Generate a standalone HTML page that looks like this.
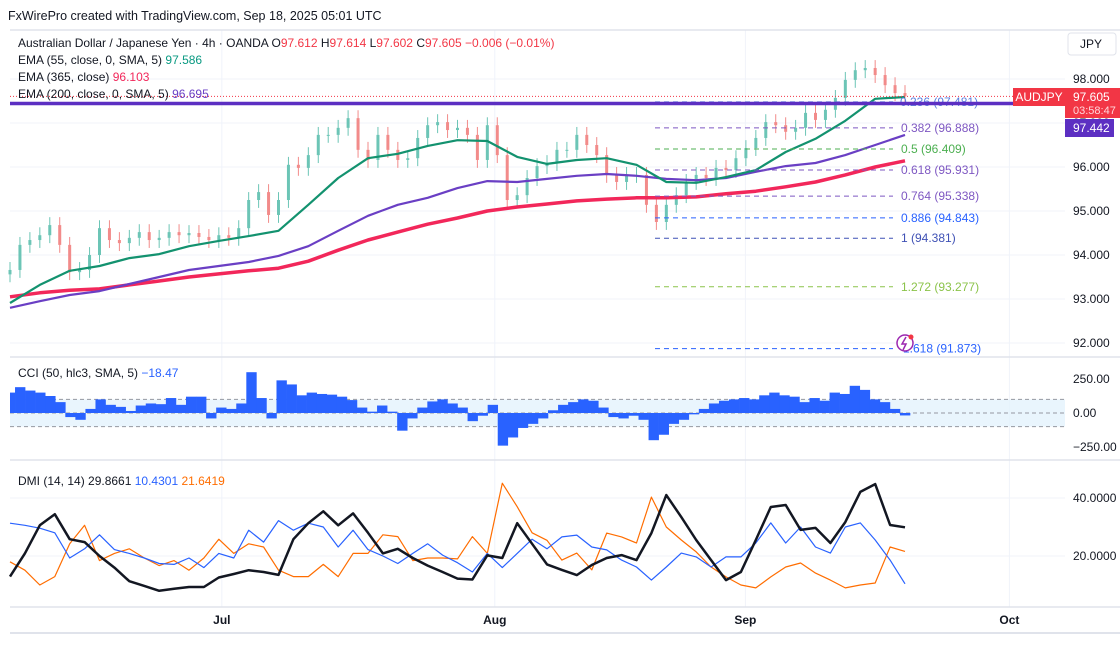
<!DOCTYPE html>
<html><head><meta charset="utf-8"><style>
body{margin:0;background:#fff;width:1120px;height:640px;overflow:hidden;font-family:"Liberation Sans",sans-serif}
svg text{font-family:"Liberation Sans",sans-serif}
</style></head><body>
<svg id="c" width="1120" height="640" xmlns="http://www.w3.org/2000/svg">
<text x="8" y="20" font-size="12.5" fill="#131722">FxWirePro created with TradingView.com, Sep 18, 2025 05:01 UTC</text>
<g id="grid"></g>
<g id="panes"></g>
</svg>
<script>
const closes=[93.66,94.23,94.34,94.45,94.68,94.23,93.61,93.66,94.00,94.61,94.34,94.27,94.39,94.52,94.34,94.39,94.52,94.45,94.50,94.41,94.34,94.45,94.39,94.61,95.25,95.43,94.91,95.25,96.05,95.98,96.27,96.73,96.73,96.89,97.11,96.39,96.16,96.73,96.39,96.16,96.20,96.66,96.95,97.02,96.84,96.89,96.73,96.16,96.95,96.27,95.25,95.36,95.75,96.02,96.09,96.39,96.39,96.73,96.50,96.27,95.82,95.66,95.82,95.82,95.14,94.75,95.14,95.36,95.66,95.82,95.75,95.98,95.93,96.20,96.43,96.66,97.02,96.95,96.80,96.89,97.23,97.07,97.30,97.57,97.98,98.20,98.25,98.09,97.86,97.68,97.61];
const ema55=[92.91,93.32,93.64,93.75,93.93,94.02,94.20,94.32,94.43,94.55,95.14,95.75,96.20,96.30,96.48,96.61,96.59,96.23,96.07,96.16,96.20,96.05,95.66,95.64,95.77,95.93,96.34,96.64,97.05,97.55,97.59];
const ema200=[92.80,92.95,93.09,93.18,93.34,93.50,93.66,93.75,93.84,93.98,94.20,94.55,94.89,95.14,95.30,95.52,95.68,95.66,95.73,95.80,95.84,95.80,95.73,95.70,95.75,95.89,96.02,96.09,96.27,96.50,96.73];
const ema365=[93.05,93.14,93.20,93.23,93.32,93.41,93.50,93.57,93.64,93.70,93.86,94.11,94.34,94.52,94.70,94.84,95.00,95.09,95.16,95.23,95.27,95.30,95.30,95.32,95.39,95.45,95.55,95.66,95.82,96.00,96.14];
const cci=[150,190,165,150,125,80,-30,-50,30,100,60,45,15,55,70,65,110,60,120,120,-40,40,30,70,300,110,-40,240,210,130,150,140,135,120,95,40,10,55,10,-130,-40,40,85,100,70,40,-60,-20,60,-240,-180,-110,-80,-40,20,60,80,100,90,40,-30,-40,-20,-50,-200,-160,-80,-50,-10,30,70,90,100,110,100,130,150,130,120,80,110,90,150,140,200,170,100,80,30,-18];
const adx=[12.9,20.9,30.6,34.4,25.8,24.8,20.0,16.0,11.3,9.7,8.0,8.7,9.3,9.3,12.6,13.8,15.1,14.5,13.5,25.8,31.3,35.4,30.6,34.7,28.0,20.9,22.5,19.3,16.7,14.5,12.2,11.9,20.2,19.3,31.3,24.2,17.1,15.2,13.4,16.9,19.3,20.3,18.6,27.9,41.0,33.4,25.5,18.6,11.7,14.5,25.5,36.9,37.6,29.0,29.7,24.5,31.7,42.1,44.8,30.7,29.9];
const diPlus=[31.3,30.6,29.6,28.0,19.3,22.5,27.3,22.2,20.9,19.3,17.4,17.1,19.3,16.0,20.9,19.3,28.9,24.8,32.2,28.9,31.3,30.0,23.1,28.9,22.2,20.0,17.4,20.9,24.2,20.3,17.7,14.5,20.9,16.0,20.9,25.8,22.5,26.6,27.2,23.1,22.1,18.6,16.2,11.7,16.2,21.0,19.7,16.2,19.7,19.7,24.5,31.4,24.5,30.0,23.1,21.0,30.0,31.4,25.5,18.6,10.4];
const diMinus=[18.0,15.1,10.0,12.9,24.2,30.6,18.4,20.9,22.5,19.3,16.7,18.4,15.1,19.3,25.8,20.9,24.2,23.1,15.1,12.9,12.9,17.1,12.9,20.9,20.9,27.3,26.7,18.4,19.3,19.3,19.0,26.7,20.9,45.1,37.0,28.0,25.4,18.6,21.0,15.2,27.9,26.6,24.5,40.3,30.0,25.5,21.4,16.2,12.8,10.0,9.0,12.8,16.2,17.6,14.1,11.7,9.0,10.0,10.7,23.1,21.6];
const priceTicks=[98,97,96,95,94,93,92];
const cciTicks=[250,0,-250];
const dmiTicks=[40,20];
const monthLabels=["Jul","Aug","Sep","Oct"];
const monthBars=[142,325,493,670];
const fibLevels=["0.236","0.382","0.5","0.618","0.764","0.886","1","1.272","1.618"];
const fibPrices=[97.481,96.888,96.409,95.931,95.338,94.843,94.381,93.277,91.873];
const fibColors=["#5b7fe0","#7e57c2","#4caf50","#7e57c2","#7e57c2","#2962ff","#3f51b5","#8bc34a","#2962ff"];
const lastPrice=97.605, hLine=97.442;
const TOTAL_BARS=600;

const NS="http://www.w3.org/2000/svg";
const svg=document.getElementById('c');
const X0=10, XW=895, XR=1065;
const xBar=b=>X0+b*XW/TOTAL_BARS;
const xIdx=(i,n)=>X0+i*XW/(n-1);
const yP=p=>79+(98-p)*44;
const yC=v=>413-v*0.136;
const yD=v=>498+(40-v)*2.9;
function el(tag,attrs,parent){const e=document.createElementNS(NS,tag);for(const k in attrs)e.setAttribute(k,attrs[k]);(parent||svg).appendChild(e);return e;}
function txt(x,y,s,attrs){const t=el('text',Object.assign({x:x,y:y},attrs));t.textContent=s;return t;}

for(const p of priceTicks){const l=el('line',{x1:X0,x2:XR,y1:yP(p),y2:yP(p),stroke:'#f0f3fa'});


const t=txt(1073,yP(p)+4,p.toFixed(3),{'font-size':12,fill:'#131722'});

}
for(let i=0;i<monthLabels.length;i++){const x=xBar(monthBars[i]);
const l=el('line',{x1:x,x2:x,y1:30,y2:607,stroke:'#f0f3fa'});


const t=txt(x,624,monthLabels[i],{'font-size':12,'font-weight':'bold',fill:'#131722','text-anchor':'middle'});

}
for(const y of [30,357,460,607,633]){const l=el('line',{x1:10,x2:1120,y1:y,y2:y,stroke:'#e0e3eb','stroke-width':y==633?2:1.5});

}
const jb=el('rect',{x:1068,y:33,width:48,height:22,rx:3,fill:'#fff',stroke:'#e0e3eb'});


txt(1080,48,'JPY',{'font-size':12,fill:'#131722'});

for(let i=0;i<closes.length;i++){
 const c=closes[i], o=i?closes[i-1]:c-0.1;
 const hi=Math.max(o,c)+0.18, lo=Math.min(o,c)-0.18;
 const x=xIdx(i,closes.length), up=c>=o, col=up?'#6cc5b6':'#f28b8a';
 const w=el('line',{x1:x,x2:x,y1:yP(hi),y2:yP(lo),stroke:col,'stroke-width':1});
 
 
 const b=el('rect',{x:x-1.5,y:yP(Math.max(o,c)),width:3,height:Math.max(1,Math.abs(yP(o)-yP(c))),fill:col});
 
 
}
function line(arr,yf,col,w,name){let d='';arr.forEach((v,i)=>{d+=(i?'L':'M')+xIdx(i,arr.length).toFixed(1)+','+yf(v).toFixed(1);});
 const p=el('path',{d:d,fill:'none',stroke:col,'stroke-width':w,'stroke-linejoin':'round'});
 
 }
line(ema365,yP,'#f2275a',3.5,'ema-365-line');
line(ema200,yP,'#6a3fc4',2.2,'ema-200-line');
line(ema55,yP,'#13926f',2.2,'ema-55-line');

for(let i=0;i<fibLevels.length;i++){const y=yP(fibPrices[i]);
 const l=el('line',{x1:655,x2:893,y1:y,y2:y,stroke:fibColors[i],'stroke-dasharray':'5,4','stroke-width':1});
 
 
 const t=txt(i==0?900:(i==8?903:901),y+4,fibLevels[i]+' ('+fibPrices[i].toFixed(3)+')',{'font-size':12,fill:fibColors[i]});
 
 }
const ic=el('circle',{cx:905,cy:343,r:8,fill:'#fff',stroke:'#9c27b0','stroke-width':1.5});


el('path',{d:'M906,337 L902,344 L906,344 L903,350',fill:'none',stroke:'#9c27b0','stroke-width':1.5});
el('circle',{cx:911,cy:337,r:2.5,fill:'#f23645'});

const hl=el('line',{x1:10,x2:1065,y1:yP(hLine),y2:yP(hLine),stroke:'#5c2fc2','stroke-width':3.5});


const lp=el('line',{x1:10,x2:1065,y1:yP(lastPrice),y2:yP(lastPrice),stroke:'#f23645','stroke-dasharray':'1,2','stroke-width':1});


const sb=el('rect',{x:1013,y:88,width:52,height:18,fill:'#f23645'});


txt(1039,101,'AUDJPY',{'font-size':12,fill:'#fff','text-anchor':'middle'});
const pb=el('rect',{x:1065,y:88,width:55,height:30,fill:'#f23645'});


txt(1073,101,lastPrice.toFixed(3),{'font-size':12,fill:'#fff'});
txt(1073,114,'03:58:47',{'font-size':11,fill:'#ffd6d9'});
const hb=el('rect',{x:1065,y:119,width:49,height:18,fill:'#5c2fc2'});


txt(1073,132,hLine.toFixed(3),{'font-size':12,fill:'#fff'});

const band=el('rect',{x:10,y:yC(100),width:1055,height:yC(-100)-yC(100),fill:'#e3f2fd','fill-opacity':0.8});


for(const v of [100,0,-100]){const l=el('line',{x1:10,x2:1065,y1:yC(v),y2:yC(v),stroke:'#9598a1','stroke-dasharray':'4,3'});
 
 }
for(const v of cciTicks){const t=txt(1073,yC(v)+4,v.toFixed(2).replace('-','\u2212'),{'font-size':12,fill:'#131722'});
 
 }
const bw=XW/(cci.length-1);
for(let i=0;i<cci.length;i++){const v=cci[i],x=xIdx(i,cci.length);
 const x0=Math.max(10,x-bw/2);
 const r=el('rect',{x:x0,y:Math.min(yC(v),yC(0)),width:x+bw/2+0.3-x0,height:Math.abs(yC(v)-yC(0)),fill:'#2962ff'});
 
 }

for(const v of dmiTicks){const l=el('line',{x1:10,x2:1065,y1:yD(v),y2:yD(v),stroke:'#f0f3fa'});
 
 
 const t=txt(1073,yD(v)+4,v.toFixed(4),{'font-size':12,fill:'#131722'});
 
 }
line(diMinus,yD,'#ff6d00',1.2,'di-minus-line');
line(diPlus,yD,'#2962ff',1.2,'di-plus-line');
line(adx,yD,'#131722',2.5,'adx-line');

function legend(y,parts,name){const t=el('text',{x:18,y:y,'font-size':12});
 
 
 for(const [s,c] of parts){const sp=el('tspan',{fill:c},t);sp.textContent=s;}}
legend(47,[['Australian Dollar / Japanese Yen · 4h · OANDA  ','#131722'],['O','#131722'],['97.612  ','#f23645'],['H','#131722'],['97.614  ','#f23645'],['L','#131722'],['97.602  ','#f23645'],['C','#131722'],['97.605  \u22120.006 (\u22120.01%)','#f23645']],'price-legend');
legend(64,[['EMA (55, close, 0, SMA, 5)  ','#131722'],['97.586','#089981']],'ema-55-legend');
legend(81,[['EMA (365, close)  ','#131722'],['96.103','#f2275a']],'ema-365-legend');
legend(98,[['EMA (200, close, 0, SMA, 5)  ','#131722'],['96.695','#6a3fc4']],'ema-200-legend');
legend(377,[['CCI (50, hlc3, SMA, 5)  ','#131722'],['\u221218.47','#2962ff']],'cci-legend');
legend(485,[['DMI (14, 14)  29.8661  ','#131722'],['10.4301  ','#2962ff'],['21.6419','#ff6d00']],'dmi-legend');
</script>
</body></html>
